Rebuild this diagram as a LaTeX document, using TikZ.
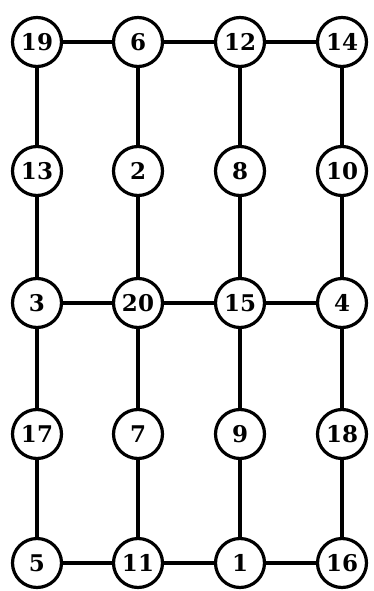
\documentclass[tikz,border=0pt]{standalone}
\usepackage{fontspec}
\setmainfont{DejaVu Serif}
\newcommand{\lbl}[1]{{\fontsize{23pt}{23pt}\selectfont\bfseries #1}}
\begin{document}
\begin{tikzpicture}[x=1pt,y=-1pt,
  vnode/.style={circle,draw,line width=3.2pt,minimum size=49pt,inner sep=0pt,fill=white},
  edge/.style={line width=3.6pt}]
\useasboundingbox (0,0) rectangle (374,591);
\node[vnode] (n19) at (37,42) {\lbl{19}};
\node[vnode] (n6) at (138,42) {\lbl{6}};
\node[vnode] (n12) at (240,42) {\lbl{12}};
\node[vnode] (n14) at (342,42) {\lbl{14}};
\node[vnode] (n13) at (37,171) {\lbl{13}};
\node[vnode] (n2) at (138,171) {\lbl{2}};
\node[vnode] (n8) at (240,171) {\lbl{8}};
\node[vnode] (n10) at (342,171) {\lbl{10}};
\node[vnode] (n3) at (37,303) {\lbl{3}};
\node[vnode] (n20) at (138,303) {\lbl{20}};
\node[vnode] (n15) at (240,303) {\lbl{15}};
\node[vnode] (n4) at (342,303) {\lbl{4}};
\node[vnode] (n17) at (37,434) {\lbl{17}};
\node[vnode] (n7) at (138,434) {\lbl{7}};
\node[vnode] (n9) at (240,434) {\lbl{9}};
\node[vnode] (n18) at (342,434) {\lbl{18}};
\node[vnode] (n5) at (37,563) {\lbl{5}};
\node[vnode] (n11) at (138,563) {\lbl{11}};
\node[vnode] (n1) at (240,563) {\lbl{1}};
\node[vnode] (n16) at (342,563) {\lbl{16}};
\draw[edge] (n19)--(n6) (n6)--(n12) (n12)--(n14);
\draw[edge] (n3)--(n20) (n20)--(n15) (n15)--(n4);
\draw[edge] (n5)--(n11) (n11)--(n1) (n1)--(n16);
\draw[edge] (n19)--(n13) (n13)--(n3) (n3)--(n17) (n17)--(n5);
\draw[edge] (n6)--(n2) (n2)--(n20) (n20)--(n7) (n7)--(n11);
\draw[edge] (n12)--(n8) (n8)--(n15) (n15)--(n9) (n9)--(n1);
\draw[edge] (n14)--(n10) (n10)--(n4) (n4)--(n18) (n18)--(n16);
\end{tikzpicture}
\end{document}
